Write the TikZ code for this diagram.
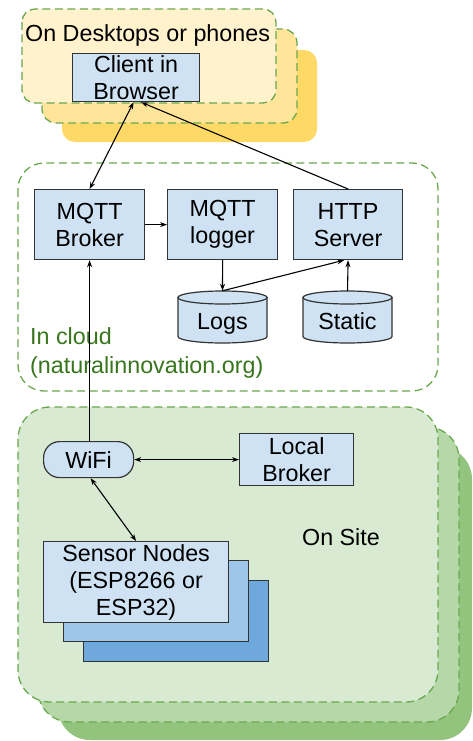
\documentclass[tikz,border=0pt]{standalone}
\usepackage{fontspec}
\setmainfont{Liberation Sans}
\usetikzlibrary{arrows.meta}
\definecolor{yfront}{HTML}{FFF2CC}
\definecolor{ymid}{HTML}{FFE599}
\definecolor{yback}{HTML}{FFD966}
\definecolor{gfront}{HTML}{D9EAD3}
\definecolor{gmid}{HTML}{B6D7A8}
\definecolor{gback}{HTML}{93C47D}
\definecolor{dashgreen}{HTML}{6AA84F}
\definecolor{txtgreen}{HTML}{38761D}
\definecolor{boxfill}{HTML}{CFE2F3}
\definecolor{boxline}{HTML}{333333}
\definecolor{sensmid}{HTML}{9FC5E8}
\definecolor{sensback}{HTML}{6FA8DC}
\tikzset{
  txt/.style={font=\fontsize{23.3pt}{27pt}\selectfont, inner sep=0pt, align=center},
  group/.style={draw=dashgreen, line width=1.3pt, dash pattern=on 8pt off 4.5pt},
  boxnode/.style={txt, draw=boxline, fill=boxfill, line width=1.2pt, anchor=north west},
  cyltext/.style={txt, minimum width=89pt, minimum height=52pt, text height=24pt, text depth=0pt},
  conn/.style={line width=1.1pt, -{Stealth[length=7pt,width=5pt]}},
  dconn/.style={line width=1.1pt, {Stealth[length=7pt,width=5pt]}-{Stealth[length=7pt,width=5pt]}},
  cylline/.style={draw=boxline, fill=boxfill, line width=1.2pt},
}
\begin{document}
\begin{tikzpicture}[x=1pt,y=-1pt]
\useasboundingbox (0,0) rectangle (473,741);

% ---------- top group ----------
\fill[yback, rounded corners=13pt] (62,50) rectangle (317,142);
\draw[group, fill=ymid, rounded corners=14pt] (42,29) rectangle (297,123);
\draw[group, fill=yfront, rounded corners=13pt] (22,9) rectangle (276,103);
\node[txt, anchor=base west] (desk) at (25,42) {On Desktops or phones};
\node[boxnode, minimum width=127pt, minimum height=48pt] (client) at (72,53) {Client in\\Browser};

% ---------- cloud group ----------
\draw[group, fill=white, rounded corners=26pt] (18,163) rectangle (438,391);
\node[boxnode, minimum width=110pt, minimum height=70pt] (broker) at (34,189) {MQTT\\Broker};
\node[boxnode, minimum width=110pt, minimum height=70pt] (logger) at (167,189) {MQTT\\logger};
\node[boxnode, minimum width=109pt, minimum height=70pt] (http) at (293,189) {HTTP\\Server};

% cylinders
\path[cylline] (178,297.5) -- (178,336.5) arc[start angle=180, end angle=0, x radius=44.5, y radius=6.5] -- (267,297.5) -- cycle;
\path[cylline] (222.5,297.5) ellipse[x radius=44.5, y radius=6.5];
\node[cyltext] (logs) at (222.5,317) {Logs};
\path[cylline] (303,297.5) -- (303,336.5) arc[start angle=180, end angle=0, x radius=44.5, y radius=6.5] -- (392,297.5) -- cycle;
\path[cylline] (347.5,297.5) ellipse[x radius=44.5, y radius=6.5];
\node[cyltext] (static) at (347.5,317) {Static};

\node[txt, anchor=base west, align=left, text=txtgreen, font=\fontsize{23.3pt}{29pt}\selectfont] (cloudlbl) at (30,373) {In cloud\\(naturalinnovation.org)};

% ---------- on site group ----------
\fill[gback, rounded corners=32pt] (58,447) rectangle (472,740);
\draw[group, fill=gmid, rounded corners=32pt] (38,427) rectangle (459,722);
\draw[group, fill=gfront, rounded corners=32pt] (18,407) rectangle (438,702);

\node[txt, anchor=center] (onsite) at (341,537) {On Site};

\node[boxnode, fill=sensback, minimum width=185pt, minimum height=81pt] (sens3) at (83,580) {};
\node[boxnode, fill=sensmid, minimum width=185pt, minimum height=81pt] (sens2) at (63,560) {};
\node[boxnode, minimum width=185pt, minimum height=81pt] (sensor) at (43,541) {Sensor Nodes\\(ESP8266 or\\ESP32)};

\node[boxnode, rounded corners=16pt, minimum width=90pt, minimum height=36pt] (wifi) at (43,441) {WiFi};
\node[boxnode, minimum width=114pt, minimum height=52pt] (local) at (239,433) {Local\\Broker};

% ---------- connectors ----------
\draw[dconn] ([xshift=-2.5pt]client.south) -- (broker.north);
\draw[conn] (http.north) -- ([xshift=5pt]client.south);
\draw[conn] (broker.east) -- (logger.west);
\draw[conn] (logger.south) -- (logs.north);
\draw[conn] (logs.north) -- ([xshift=-4pt]http.south);
\draw[conn] (static.north) -- (http.south);
\draw[conn] (wifi.north -| broker.south) -- (broker.south);
\draw[dconn] (wifi.east) -- (local.west);
\draw[dconn] ([xshift=2pt]wifi.south) -- (sensor.north);
\end{tikzpicture}
\end{document}
